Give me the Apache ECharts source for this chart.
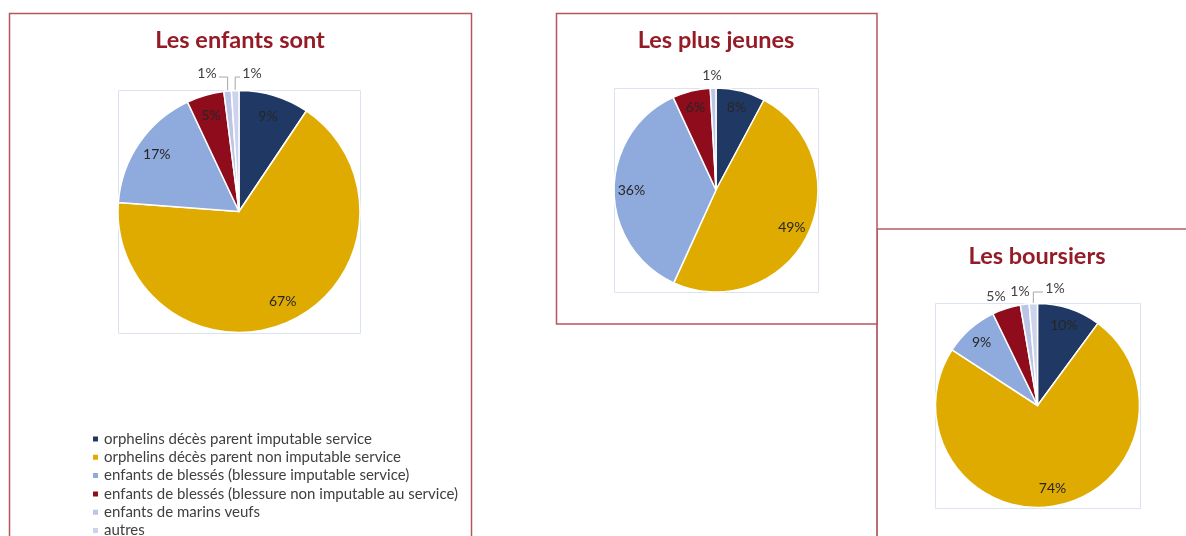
<!DOCTYPE html>
<html>
<head>
<meta charset="utf-8">
<script src="https://cdn.jsdelivr.net/npm/echarts@6/dist/echarts.min.js"></script>
<style>
  html, body { margin: 0; background: #fff; }
  #chart { width: 1186px; height: 536px; }
</style>
</head>
<body>
<div id="chart"></div>
<script>
// categories (shared legend)
const categories = [
  'orphelins décès parent imputable service',
  'orphelins décès parent non imputable service',
  'enfants de blessés (blessure imputable service)',
  'enfants de blessés (blessure non imputable au service)',
  'enfants de marins veufs',
  'autres'
]
// values (percent)
const enfantsValues = [9.4, 66.8, 16.8, 5.0, 1.0, 1.0]
const jeunesValues = [7.8, 49.0, 36.3, 6.0, 0.9]
const boursiersValues = [10.1, 74.1, 8.6, 4.5, 1.4, 1.3]
const titles = ['Les enfants sont', 'Les plus jeunes', 'Les boursiers']

const colors = ['#203864', '#e0ab00', '#8faadc', '#8e0c1b', '#bcc5e6', '#ccd3ec']
const frameColor = '#b9545e'
const boxColor = '#dbe3f0'
const font = 'Lato'

// layout of each little chart; "outside" = label offsets from the pie centre, excel style
const charts = [
  { title: titles[0], values: enfantsValues, cx: 239, cy: 211.5, r: 121, tx: 240, ty: 28, inside: 4,
    outside: { 4: [-32, -138.5, true], 5: [13, -138.5, true] } },
  { title: titles[1], values: jeunesValues, cx: 716, cy: 190, r: 102, tx: 716, ty: 28, inside: 4,
    outside: { 4: [-4, -115, false] } },
  { title: titles[2], values: boursiersValues, cx: 1037.5, cy: 405.5, r: 102, tx: 1037, ty: 244, inside: 3,
    outside: { 3: [-41.5, -109.5, false], 4: [-17.5, -114.5, false], 5: [17.5, -117.5, true] } },
]

const pct = (p) => Math.round(p.percent) + '%'

// middle angle of a slice (clockwise from 12 o'clock)
const midAngle = (values, i) => {
  const total = values.reduce((a, b) => a + b, 0)
  let before = 0
  for (let k = 0; k < i; k++) before += values[k]
  return (before + values[i] / 2) / total * Math.PI * 2
}

const series = []
// real slices (with the outside labels)
charts.forEach((c) => {
  series.push({
    type: 'pie',
    center: [c.cx, c.cy],
    radius: [0, c.r],
    startAngle: 90,
    clockwise: true,
    z: 3,
    itemStyle: { borderColor: '#fff', borderWidth: 1.5 },
    label: { position: 'outside', formatter: pct, fontFamily: font, fontSize: 14, color: '#404040' },
    labelLine: { length: 10, length2: 6, lineStyle: { color: '#a6a6a6', width: 1 } },
    emphasis: { scale: false },
    labelLayout: (p) => {
      const o = c.outside[p.dataIndex]
      if (!o) return
      const x = c.cx + o[0]
      const y = c.cy + o[1]
      const res = { x: x, y: y, align: 'center', verticalAlign: 'middle' }
      if (o[2]) {
        const a = midAngle(c.values, p.dataIndex)
        const sx = c.cx + c.r * Math.sin(a)
        const sy = c.cy - c.r * Math.cos(a)
        const ly = y + 4
        const ex = o[0] < 0 ? x + 12 : x - 12
        res.labelLinePoints = [[sx, sy], [sx, ly], [ex, ly]]
      }
      return res
    },
    data: c.values.map((v, i) => {
      const o = c.outside[i]
      return {
        name: categories[i],
        value: v,
        itemStyle: { color: colors[i] },
        label: { show: i >= c.inside },
        labelLine: { show: !!(o && o[2]) },
      }
    }),
  })
})
// transparent copies that only carry the inside labels at ~0.8 radius
charts.forEach((c) => {
  series.push({
    type: 'pie',
    center: [c.cx, c.cy],
    radius: [c.r * 0.6, c.r],
    startAngle: 90,
    silent: true,
    z: 4,
    itemStyle: { color: 'rgba(0,0,0,0)', borderWidth: 0 },
    label: { position: 'inside', formatter: pct, fontFamily: font, fontSize: 14, color: '#262626' },
    labelLine: { show: false },
    data: c.values.map((v, i) => ({
      name: categories[i],
      value: v,
      label: { show: i < c.inside },
    })),
  })
})

const option = {
  animation: false,
  title: charts.map((c) => ({
    text: c.title,
    left: c.tx,
    top: c.ty,
    textAlign: 'center',
    padding: 0,
    textStyle: { color: '#951b27', fontFamily: font, fontWeight: 'bold', fontSize: 23.5 },
  })),
  legend: {
    orient: 'vertical',
    left: 91,
    top: 431.5,
    height: 160,
    padding: 0,
    icon: 'rect',
    itemWidth: 7,
    itemHeight: 7,
    itemGap: 3.3,
    selectedMode: false,
    textStyle: { fontFamily: font, fontSize: 15, lineHeight: 15, color: '#404040' },
    data: categories,
  },
  graphic: [
    // frame of "Les boursiers" (partly hidden behind "Les plus jeunes")
    { type: 'rect', z: 0, shape: { x: 877, y: 229, width: 400, height: 400 }, style: { fill: '#fff', stroke: '#8e0c1b', lineWidth: 1.2 } },
    { type: 'rect', z: 0, shape: { x: 9.5, y: 13.5, width: 462, height: 600 }, style: { fill: '#fff', stroke: frameColor, lineWidth: 1.5 } },
    { type: 'rect', z: 0, shape: { x: 556.5, y: 13.5, width: 320.5, height: 310.5 }, style: { fill: '#fff', stroke: frameColor, lineWidth: 1.5 } },
    // plot areas
    { type: 'rect', z: 1, shape: { x: 118.5, y: 90.5, width: 242, height: 243 }, style: { fill: 'none', stroke: boxColor, lineWidth: 1 } },
    { type: 'rect', z: 1, shape: { x: 614.5, y: 88.5, width: 204, height: 204 }, style: { fill: 'none', stroke: boxColor, lineWidth: 1 } },
    { type: 'rect', z: 1, shape: { x: 935.5, y: 303.5, width: 205, height: 205 }, style: { fill: 'none', stroke: boxColor, lineWidth: 1 } },
  ],
  series: series,
}

const myChart = echarts.init(document.getElementById('chart'))
myChart.setOption(option)
window.addEventListener('resize', function () {
  myChart.resize()
})
</script>
</body>
</html>
